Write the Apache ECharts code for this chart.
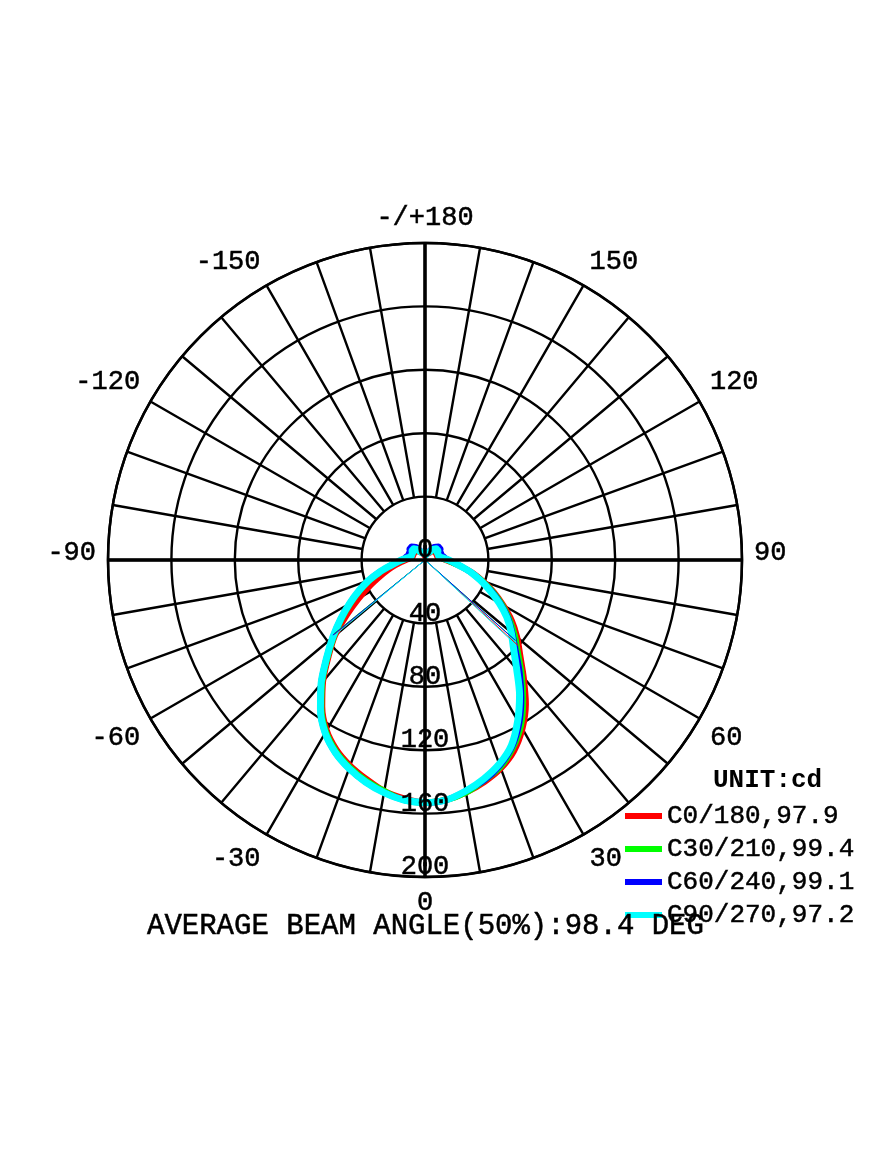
<!DOCTYPE html>
<html><head><meta charset="utf-8">
<script src="https://cdn.jsdelivr.net/npm/echarts@6/dist/echarts.min.js"></script>
<style>html,body{margin:0;padding:0;background:#fff}#c{width:875px;height:1166px}</style>
</head><body><div id="c"></div>
<script>
// gamma angles (deg) for each half plane
const gamma = [0,5,10,15,20,25,30,35,40,45,50,55,60,65,70,75,80,85,90,95,100,105,110,115,120,125,130,135,140,145,150,155,160,165,170,175,180];
// intensity (cd), right half-plane (positive gamma) and left half-plane (negative gamma)
const c0   = [153,152,149,145,140,133,123,111,97,85,76,67,57,48,39,31,23,17,13,11,9,8,8,8,8,8,8,8,7,6,5,5,4,4,3,3,3];
const c180 = [153,151,148,143,138,132,124,113,100,86,74,60,48,38,30,24,19,15,12,10,9,8,8,8,8,8,8,8,7,6,5,5,4,4,3,3,3];
const c30  = [153,152,149,144,139,131,121,108,95,83,74,65,56,47,38,30,23,17,14,11,10,9,9,9,9,9,9,9,8,7,6,5,5,4,4,3,3];
const c210 = [153,152,148,144,139,133,125,114,101,87,75,64,54,45,37,29,23,18,14,12,10,9,9,9,9,9,9,9,8,7,6,5,5,4,4,3,3];
const c60  = [153,152,148,144,138,130,119,106,93,81,72,64,55,46,37,30,23,18,15,13,12,11,11,11,11,12,12,12,11,10,8,6,5,4,4,3,3];
const c240 = [153,152,149,145,140,134,126,115,102,88,76,65,55,46,38,30,23,18,15,13,12,11,11,11,11,12,12,12,11,10,8,6,5,4,4,3,3];
const c90  = [153,152,148,143,137,129,117,104,90,79,71,63,54,45,37,30,23,18,15,12,10,9,9,9,9,10,10,10,9,8,6,5,5,4,4,3,3];
const c270 = [153,152,149,145,140,134,126,115,102,88,76,65,55,46,38,30,23,18,15,12,10,9,9,9,9,10,10,10,9,8,6,5,5,4,4,3,3];

const seriesNames = ['C0/180,97.9','C30/210,99.4','C60/240,99.1','C90/270,97.2'];
const seriesColors = ['#ff0000','#00ff00','#0000ff','#00ffff'];
// 50% beam edges (deg) and the intensity where the thin lines meet the curve (cd)
const beamLeft   = [-50.5,-51.0,-50.8,-50.2];
const beamRight  = [47.4,48.4,48.3,47.0];
const beamRLeft  = [74,74,75,75];
const beamRRight = [80,77,76,75];

const angleTickValues = [-180,-150,-120,-90,-60,-30,0,30,60,90,120,150];
const angleTickText   = ['-/+180','-150','-120','-90','-60','-30','0','30','60','90','120','150'];
const radiusTicks = [0,40,80,120,160,200];

const FONT = 'Liberation Mono';
const CX = 425, CY = 560, R = 317;
const heavy = {textBorderColor:'#000', textBorderWidth:0.5};

function sweep(left, right) {
  const d = [];
  for (let i = gamma.length - 1; i > 0; i--) d.push([left[i], -gamma[i]]);
  for (let i = 0; i < gamma.length; i++) d.push([right[i], gamma[i]]);
  return d;
}
const planes = [[c180,c0],[c210,c30],[c240,c60],[c270,c90]];

const series = [];
planes.forEach((p, k) => {
  series.push({
    type:'line', coordinateSystem:'polar', polarIndex:1, name:seriesNames[k],
    data: sweep(p[0], p[1]), showSymbol:false, smooth:0.3, silent:true,
    lineStyle:{color:seriesColors[k], width: k===3 ? 7 : 6},
    itemStyle:{color:seriesColors[k]}, z:3 + k
  });
});
planes.forEach((p, k) => {
  series.push({
    type:'line', coordinateSystem:'polar', polarIndex:1, name:'beam'+k,
    data: [[beamRLeft[k], beamLeft[k]],[0,0],[beamRRight[k], beamRight[k]]],
    showSymbol:false, silent:true,
    lineStyle:{color:seriesColors[k], width:1}, itemStyle:{color:seriesColors[k]}, z:8
  });
});

const labelFont = Object.assign({fontFamily:FONT, fontSize:27, color:'#000'}, heavy);

const chart = echarts.init(document.getElementById('c'), null, {renderer:'canvas'});
chart.setOption({
  animation:false,
  backgroundColor:'#fff',
  title:[
    {text:'AVERAGE BEAM ANGLE(50%):98.4 DEG', left:147, top:912, padding:0,
     textStyle:Object.assign({fontFamily:FONT, fontSize:29, fontWeight:'normal', color:'#000'}, heavy)},
    {text:'UNIT:cd', left:713, top:767, padding:0,
     textStyle:{fontFamily:FONT, fontSize:26, fontWeight:'bold', color:'#000'}}
  ],
  legend:{
    data:seriesNames, orient:'vertical', left:625, top:802, padding:0,
    itemWidth:37, itemHeight:6, icon:'rect', itemGap:5,
    textStyle:Object.assign({fontFamily:FONT, fontSize:26, color:'#000', lineHeight:28}, heavy)
  },
  polar:[
    {center:[CX,CY], radius:[R*40/200, R]},
    {center:[CX,CY], radius:[0, R]},
    {center:[CX,CY], radius:[0, R]},
    {center:[CX,CY], radius:[0, R]}
  ],
  angleAxis:[
    {polarIndex:0, type:'value', min:-180, max:180, interval:10, startAngle:90, clockwise:false,
     axisLine:{show:false}, axisTick:{show:false}, axisLabel:{show:false},
     splitLine:{show:true, lineStyle:{color:'#000', width:2.4}}},
    {polarIndex:1, type:'value', min:-180, max:180, interval:30, startAngle:90, clockwise:false,
     axisLine:{show:true, lineStyle:{color:'#000', width:2.5}}, axisTick:{show:false},
     axisLabel:Object.assign({show:true, margin:12,
       formatter:function(v){
         const i = angleTickValues.indexOf(v);
         if (i < 0) return '';
         return (v === 90 || v === -90) ? '{h|' + angleTickText[i] + '}' : angleTickText[i];
       },
       rich:{h:Object.assign({padding:[0,0,14,0]}, labelFont)}}, labelFont),
     splitLine:{show:false}},
    {polarIndex:2, type:'value', min:-180, max:180, interval:90, startAngle:90, clockwise:false, z:10,
     axisLine:{show:false}, axisTick:{show:false}, axisLabel:{show:false},
     splitLine:{show:true, lineStyle:{color:'#000', width:3.5}}},
    {polarIndex:3, type:'value', min:0, max:360, startAngle:270, show:false}
  ],
  radiusAxis:[
    {polarIndex:0, type:'value', min:0, max:1, show:false},
    {polarIndex:1, type:'value', min:0, max:200, interval:40,
     axisLine:{show:false}, axisTick:{show:false}, axisLabel:{show:false},
     splitLine:{show:true, lineStyle:{color:'#000', width:2.4}}},
    {polarIndex:2, type:'value', min:0, max:200, show:false},
    {polarIndex:3, type:'value', min:0, max:200, interval:40, z:20,
     axisLine:{show:false}, axisTick:{show:false}, splitLine:{show:false},
     axisLabel:Object.assign({show:true, margin:0, align:'center', verticalAlign:'bottom', lineHeight:20,
       formatter:function(v){ return radiusTicks.indexOf(v)>=0 ? String(v) : ''; }}, labelFont)}
  ],
  series:series
});
</script></body></html>
